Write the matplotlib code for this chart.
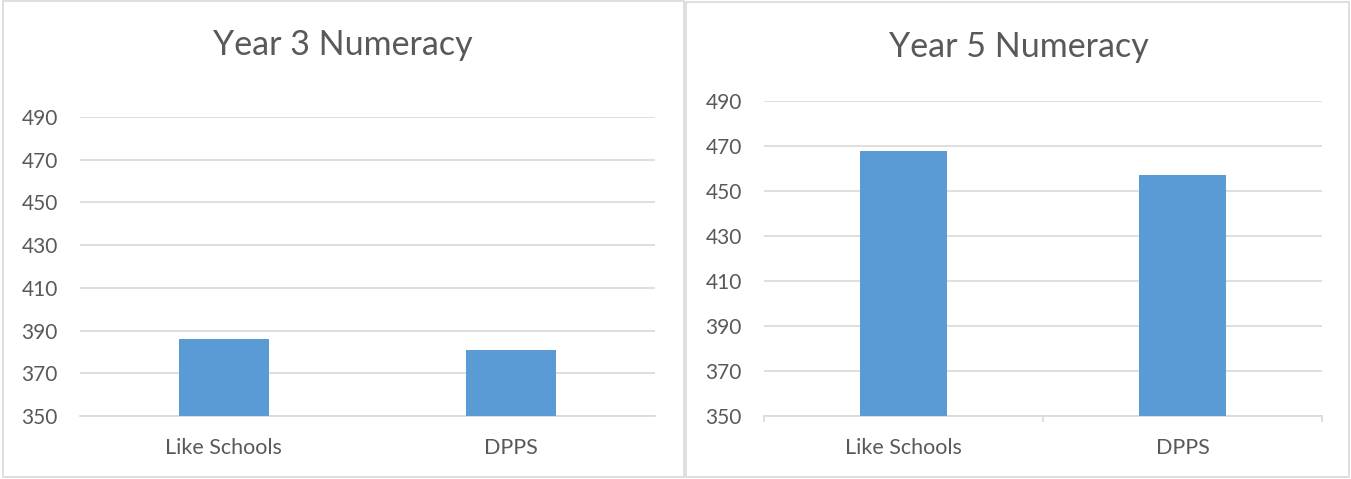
import matplotlib
matplotlib.use("Agg")
import matplotlib.pyplot as plt
from matplotlib.patches import Rectangle

plt.rcParams['font.family'] = ['Lato', 'DejaVu Sans']

categories = ["Like Schools", "DPPS"]
year3_values = [386, 381]
year5_values = [468, 457]
y_ticks = [350, 370, 390, 410, 430, 450, 470, 490]
titles = ["Year 3 Numeracy", "Year 5 Numeracy"]

W, H = 1351, 479
fig = plt.figure(figsize=(W / 100, H / 100), dpi=100)

BAR = "#5b9bd5"
GRID = "#d9d9d9"
TXT = "#595959"

def fx(px):
    return px / W

def fy(py):
    return 1 - py / H

# panel borders
for (x0, y0, x1, y1) in [(3, 1, 684, 477), (686, 2, 1349, 477)]:
    fig.patches.append(Rectangle((fx(x0), fy(y1)), fx(x1 - x0), (y1 - y0) / H,
                                 transform=fig.transFigure, fill=False,
                                 edgecolor=GRID, linewidth=1.2))

specs = [
    dict(vals=year3_values, box=(80, 117, 655, 416), title=titles[0], tx=343, ty=45, ticks=False),
    dict(vals=year5_values, box=(764, 101, 1322, 416), title=titles[1], tx=1019, ty=47, ticks=True),
]

for s in specs:
    x0, y0, x1, y1 = s["box"]
    ax = fig.add_axes([fx(x0), fy(y1), fx(x1 - x0), (y1 - y0) / H])
    pos = [0.5, 1.5]
    ax.bar(pos, [v - 350 for v in s["vals"]], bottom=350, width=0.313, color=BAR, zorder=3)
    ax.set_xlim(0, 2)
    ax.set_ylim(350, 490)
    ax.set_yticks(y_ticks)
    ax.set_yticklabels([str(t) for t in y_ticks])
    ax.grid(axis='y', color=GRID, linewidth=1.2, zorder=0)
    for sp in ['top', 'right', 'left']:
        ax.spines[sp].set_visible(False)
    ax.spines['bottom'].set_color(GRID)
    ax.spines['bottom'].set_linewidth(1.2)
    ax.tick_params(axis='y', length=0, pad=16, labelsize=15, labelcolor=TXT)
    ax.set_xticks(pos)
    ax.set_xticklabels(categories)
    ax.tick_params(axis='x', length=0, pad=16, labelsize=15.5, labelcolor=TXT)
    if s["ticks"]:
        ax.set_xticks([0, 1, 2], minor=True)
        ax.tick_params(axis='x', which='minor', length=4, width=1.2, color=GRID, direction='out')
    fig.text(fx(s["tx"]), fy(s["ty"]), s["title"], ha='center', va='center',
             fontsize=24.5, color=TXT)

fig.savefig("out.png", dpi=100)
